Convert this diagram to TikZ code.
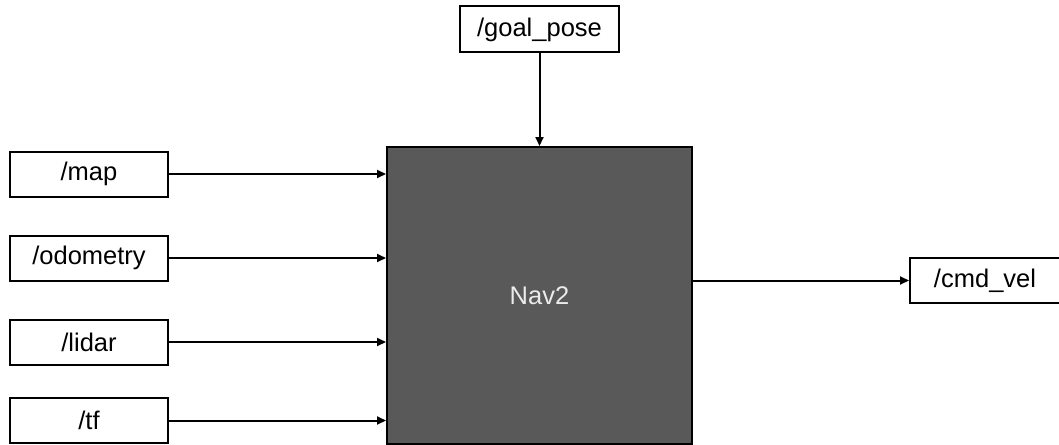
\documentclass[tikz,border=0pt]{standalone}
\usepackage{fontspec}
\setmainfont{Liberation Sans}
\usetikzlibrary{arrows.meta}
\begin{document}
\begin{tikzpicture}[x=1pt,y=-1pt,
  topic/.style={draw=black, line width=2pt, fill=white, minimum width=158pt,
    minimum height=45pt, inner sep=0pt, font=\fontsize{25.5}{30}\selectfont},
  core/.style={draw=black, line width=2pt, fill=nav, minimum width=305pt,
    minimum height=297pt, inner sep=0pt, text=white!92!black,
    font=\fontsize{25.5}{30}\selectfont},
  link/.style={line width=2pt, -{Triangle[length=9pt,width=8pt]}}]
\definecolor{nav}{HTML}{595959}
\useasboundingbox (0,0) rectangle (1059,444);
% inputs
\node[topic] (map)  at (89,174)   {/map};
\node[topic] (odom) at (89,258)   {/odometry};
\node[topic] (lidar) at (89,342)  {/lidar};
\node[topic] (tf)   at (89,420.5) {/tf};
\node[topic, minimum width=159pt, minimum height=46pt] (goal) at (539.5,29.5) {/goal\_pose};
% navigation stack
\node[core] (nav) at (539.5,295.5) {Nav2};
% output
\node[topic, minimum width=150pt] (cmd) at (985,280.5) {/cmd\_vel};
% connectors
\foreach \n in {map,odom,lidar,tf}
  \draw[link] (\n.east) -- (\n.east -| nav.west);
\draw[link] (goal.south) -- (goal.south |- nav.north);
\draw[link] (cmd.west -| nav.east) -- (cmd.west);
\end{tikzpicture}
\end{document}
